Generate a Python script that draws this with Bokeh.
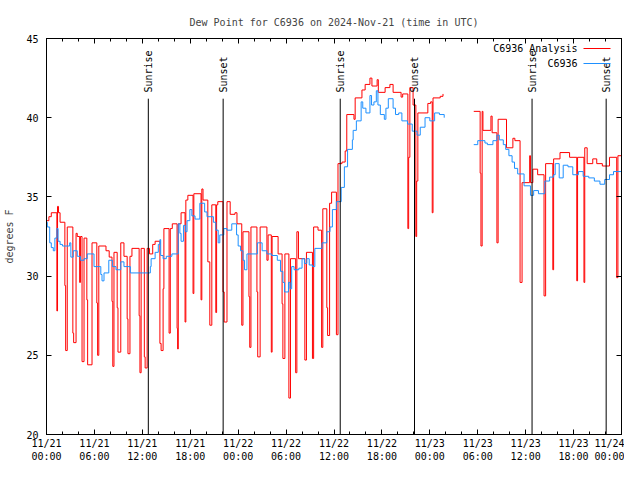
import math
from bokeh.plotting import figure
from bokeh.models import (FixedTicker, LinearAxis, Label, BoxAnnotation, Range1d)
from bokeh.embed import file_html
from bokeh.resources import INLINE

FONT = "DejaVu Sans Mono"
NAN = float("nan")

# hours after 2024-11-21 00:00 UTC
analysis_hours = [0.0, 0.3, 0.6, 1.3, 1.38, 1.5, 1.7, 2.3, 2.4, 2.6, 3.3, 3.4, 3.7, 3.85, 4.15, 4.25,
                  4.45, 4.7, 5.05, 5.15, 5.7, 6.3, 6.4, 6.55, 7.45, 7.85, 8.2, 8.3, 8.45, 8.85, 8.95,
                  9.3, 9.7, 10.1, 10.2, 10.45, 10.7, 11.6, 11.7, 11.85, 12.25, 12.35, 12.6, 12.9,
                  13.3, 13.6, 14.2, 14.35, 14.6, 14.7, 15.35, 15.5, 15.75, 16.35, 16.42, 16.5,
                  16.85, 17.35, 17.45, 17.7, 18.35, 18.45, 19.35, 19.45, 19.6, 20.2, 20.45, 20.7,
                  21.2, 21.3, 21.45, 22.1, 22.25, 22.6, 23.0, 23.6, 23.85, 24.45, 24.6, 25.35,
                  25.45, 25.6, 26.35, 26.45, 26.75, 27.6, 27.75, 28.15, 28.25, 29.0, 29.5, 29.6,
                  29.85, 30.35, 30.55, 31.2, 31.35, 31.55, 32.35, 32.55, 33.3, 33.45, 34.0, 34.45,
                  34.6, 35.1, 35.2, 35.45, 35.7, 36.3, 36.5, 37.0, 37.4, 37.6, 38.5, 38.65, 39.5,
                  39.9, 40.5, 40.75, 41.4, 41.55, 42.4, 43.0, 43.4, 44.4, 44.6, 45.25, 45.35, 45.5,
                  45.9, 46.25, 46.35, 46.5, 47.75, 48.1, 48.3, 48.4, 49.3, 49.65, 50.3,
                  53.5, 54.3, 54.4, 54.55, 54.65, 55.65, 55.8, 56.4, 56.55, 57.6, 58.4, 58.65,
                  59.3, 59.55, 60.5, 60.6, 60.9, 61.5, 62.3, 62.5, 63.4, 63.5, 64.3, 65.5, 66.4,
                  66.5, 67.3, 67.4, 67.7, 68.4, 68.9, 69.6, 70.5, 71.4, 71.55, 72.0]
analysis_dewpt = [33.5, 33.75, 34.0, 27.8, 34.4, 34.0, 33.4, 29.4, 25.3, 33.1, 26.4, 25.8, 32.7, 32.5, 29.6, 32.5,
                  24.6, 32.4, 28.5, 24.4, 32.1, 28.3, 25.0, 31.9, 31.6, 31.2, 28.4, 24.3, 31.5, 28.0, 25.2,
                  32.1, 31.25, 27.3, 25.1, 31.25, 31.75, 27.5, 23.9, 31.75, 24.9, 24.2, 31.75, 31.4,
                  32.0, 32.2, 25.75, 25.3, 29.2, 33.0, 26.4, 33.0, 33.3, 26.7, 25.4, 33.3,
                  34.0, 27.1, 34.8, 35.1, 28.9, 35.2, 28.5, 35.5, 34.8, 30.9, 26.9, 34.5,
                  27.7, 34.5, 34.7, 29.0, 27.1, 34.7, 33.9, 34.0, 33.3, 26.9, 32.8, 28.7,
                  25.5, 33.1, 29.0, 24.9, 33.1, 31.0, 32.6, 25.2, 32.5, 31.4, 28.25, 24.8,
                  31.4, 22.3, 31.1, 23.9, 32.8, 31.1, 24.7, 31.5, 24.8, 33.1, 32.9, 25.5,
                  34.25, 28.0, 26.25, 34.6, 35.3, 26.3, 37.1, 37.2, 37.9, 40.2, 39.9, 41.25, 41.75,
                  42.1, 42.5, 42.0, 42.4, 41.6, 41.9, 42.1, 41.6, 41.3, 41.5, 33.0, 37.5, 41.9,
                  40.8, 32.5, 36.0, 40.3, 40.9, 41.0, 34.0, 41.25, 41.35, 41.5, NAN,
                  40.4, 36.5, 31.9, 40.4, 39.2, 40.1, 39.05, 32.1, 39.9, 38.1, 38.7, 38.55,
                  29.6, 35.9, 37.6, 35.9, 36.75, 36.4, 28.75, 37.1, 30.4, 37.4, 37.8, 37.5, 29.7,
                  37.5, 29.6, 38.1, 37.1, 37.4, 37.1, 36.95, 37.5, 29.9, 37.6, 37.6]

obs_hours = [0.0, 0.1, 0.4, 0.6, 0.85, 1.05, 1.3, 1.45, 1.7, 2.0, 2.9, 3.05, 3.35, 3.85, 4.25, 4.7,
             5.1, 5.95, 6.8, 6.95, 7.2, 7.8, 8.25, 8.7, 9.3, 9.7, 10.5, 13.0, 13.1, 13.6, 14.0,
             14.2, 14.3, 14.6, 15.0, 15.7, 16.5, 16.7, 16.85, 17.15, 17.4, 17.6, 17.95, 18.2,
             18.6, 19.2, 19.8, 20.1, 20.9, 21.2, 21.5, 21.7, 22.2, 22.6, 23.2, 23.8, 24.0,
             24.3, 24.6, 24.8, 25.1, 26.4, 27.0, 27.6, 28.2, 28.9, 29.3, 29.6, 29.8, 30.3,
             30.5, 30.7, 31.0, 31.6, 32.0, 32.3, 32.6, 32.9, 33.3, 33.6, 34.5, 35.1, 35.5,
             35.8, 36.3, 36.9, 37.3, 37.7, 38.3, 38.4, 38.8, 39.4, 39.6, 40.0, 40.5, 40.7,
             41.0, 41.3, 41.5, 41.8, 42.3, 42.5, 42.8, 43.4, 43.7, 44.1, 44.5, 45.2, 45.8,
             46.4, 46.8, 47.4, 48.0, 48.6, 49.2, 49.8, 50.3,
             53.5, 54.0, 54.9, 55.2, 55.9, 56.4, 56.7, 57.2, 57.5, 57.9, 58.3, 58.6, 59.0,
             59.8, 60.6, 61.0, 61.6, 62.4, 63.0, 63.5, 63.7, 64.2, 64.7, 65.3, 65.9, 66.6,
             67.2, 67.9, 68.6, 69.3, 69.9, 70.5, 71.0, 72.0]
obs_dewpt = [33.4, 33.1, 32.1, 31.8, 31.6, 32.4, 33.0, 32.2, 32.0, 31.9, 32.1, 31.2, 31.6, 31.25, 31.0, 31.1,
             31.4, 30.6, 30.1, 29.7, 30.2, 31.0, 30.6, 30.4, 30.9, 30.6, 30.2, 30.6, 31.1, 31.5, 32.0,
             32.3, 31.3, 31.1, 31.25, 31.4, 33.3, 32.7, 32.2, 33.2, 32.8, 33.5, 34.2, 33.8,
             33.6, 34.6, 34.05, 33.75, 33.4, 32.9, 32.1, 32.6, 33.0, 32.9, 33.3, 32.6, 31.9,
             31.6, 31.0, 30.4, 31.4, 32.1, 31.6, 31.4, 31.3, 31.0, 30.3, 29.6, 29.0, 29.6,
             29.2, 30.6, 30.4, 30.5, 31.1, 30.8, 31.1, 30.7, 30.6, 31.75, 32.1, 32.8, 33.1,
             34.2, 34.7, 35.6, 36.9, 38.0, 38.6, 39.2, 39.8, 41.0, 40.6, 40.3, 41.4, 40.8,
             41.0, 41.7, 40.8, 40.2, 39.9, 40.6, 41.2, 40.6, 40.2, 40.3, 39.8, 39.6, 39.15,
             38.9, 39.4, 40.0, 39.8, 40.3, 40.2, 40.0, NAN,
             38.3, 38.55, 38.4, 38.3, 38.55, 38.9, 38.6, 38.3, 38.0, 37.6, 37.2, 36.8, 36.45,
             35.7, 35.1, 35.4, 35.2, 36.0, 36.25, 36.4, 37.1, 36.2, 37.0, 36.9, 36.4, 36.6,
             36.3, 36.2, 36.0, 35.8, 36.1, 36.4, 36.6, 36.6]

sunrise_hours = [12.75, 36.78, 60.8]
sunset_hours = [22.12, 46.08, 70.08]

x_ticks = [0, 6, 12, 18, 24, 30, 36, 42, 48, 54, 60, 66, 72]
x_minor = list(range(0, 73, 2))
x_tick_labels = ["11/21\n00:00", "11/21\n06:00", "11/21\n12:00", "11/21\n18:00",
                 "11/22\n00:00", "11/22\n06:00", "11/22\n12:00", "11/22\n18:00",
                 "11/23\n00:00", "11/23\n06:00", "11/23\n12:00", "11/23\n18:00",
                 "11/24\n00:00"]
y_ticks = [20, 25, 30, 35, 40, 45]


def segments(xs, ys):
    out, cx, cy = [], [], []
    for x, y in zip(xs, ys):
        if math.isnan(y):
            if cx:
                out.append((cx, cy))
            cx, cy = [], []
        else:
            cx.append(x)
            cy.append(y)
    if cx:
        out.append((cx, cy))
    return out


FRAME_H = 396  # 464 - top border 38 - bottom border 30

p = figure(width=624, height=464, output_backend="svg", toolbar_location=None,
           x_range=Range1d(0, 72), y_range=Range1d(20, 45),
           title="Dew Point for C6936 on 2024-Nov-21 (time in UTC)",
           min_border_left=46, min_border_right=3, min_border_top=38, min_border_bottom=28)
p.xaxis.visible = False
p.yaxis.visible = False
p.xgrid.visible = False
p.ygrid.visible = False
p.outline_line_color = "black"
p.outline_line_width = 1
p.background_fill_color = "white"
p.border_fill_color = "white"

p.title.text_font = FONT
p.title.text_font_size = "10px"
p.title.text_font_style = "normal"
p.title.align = "center"
p.title.standoff = 21

xt = FixedTicker(ticks=x_ticks, minor_ticks=x_minor)
yt = FixedTicker(ticks=y_ticks, minor_ticks=[])


def style_axis(ax, labels=True):
    ax.major_tick_in = 5
    ax.major_tick_out = 0
    ax.minor_tick_in = 3
    ax.minor_tick_out = 0
    ax.axis_line_color = "black"
    ax.major_tick_line_color = "black"
    ax.minor_tick_line_color = "black"
    ax.major_label_text_font = FONT
    if labels:
        ax.major_label_text_font_size = "10px"
        ax.major_label_text_color = "black"
        ax.major_label_standoff = 8
    else:
        ax.major_label_text_font_size = "1px"
        ax.major_label_text_color = None
        ax.major_label_standoff = 0


bottom = LinearAxis(ticker=xt)
style_axis(bottom)
bottom.major_label_standoff = 3
bottom.major_label_text_line_height = 1.2
bottom.major_label_overrides = {t: l for t, l in zip(x_ticks, x_tick_labels)}
p.add_layout(bottom, "below")

top = LinearAxis(ticker=xt)
style_axis(top, labels=False)
p.add_layout(top, "above")

left = LinearAxis(ticker=yt, axis_label="degrees F")
style_axis(left)
left.axis_label_text_font = FONT
left.axis_label_text_font_size = "10px"
left.axis_label_text_font_style = "normal"
left.axis_label_standoff = 8
p.add_layout(left, "left")

right = LinearAxis(ticker=yt)
style_axis(right, labels=False)
p.add_layout(right, "right")

for xs, ys in segments(analysis_hours, analysis_dewpt):
    p.step(xs, ys, mode="after", line_color="#ff0000", line_width=1)
for xs, ys in segments(obs_hours, obs_dewpt):
    p.step(xs, ys, mode="after", line_color="#1e90ff", line_width=1)

# sunrise / sunset markers
sun_x = sunrise_hours + sunset_hours
sun_names = ["Sunrise"] * len(sunrise_hours) + ["Sunset"] * len(sunset_hours)
p.segment(x0=sun_x, x1=sun_x, y0=[20] * len(sun_x), y1=[41.2] * len(sun_x),
          line_color="black", line_width=1)
for x, name in zip(sun_x, sun_names):
    p.add_layout(Label(x=x, y=FRAME_H - 54, x_units="data", y_units="screen", text=name,
                       angle=math.pi / 2, text_align="left", text_baseline="middle",
                       text_font=FONT, text_font_size="10px", text_color="black"))

# legend (text then sample line, like the original)
legend_items = [("C6936 Analysis", "#ff0000", FRAME_H - 10), ("C6936", "#1e90ff", FRAME_H - 25)]
for name, color, ys in legend_items:
    p.add_layout(Label(x=531, y=ys, x_units="screen", y_units="screen", text=name,
                       text_align="right", text_baseline="middle",
                       text_font=FONT, text_font_size="10px", text_color="black"))
    p.add_layout(BoxAnnotation(left=537, right=564, bottom=ys - 0.5, top=ys + 0.5,
                               left_units="screen", right_units="screen",
                               bottom_units="screen", top_units="screen",
                               fill_color=color, fill_alpha=1, line_color=None))

open("out.html", "w").write(file_html(p, INLINE))
